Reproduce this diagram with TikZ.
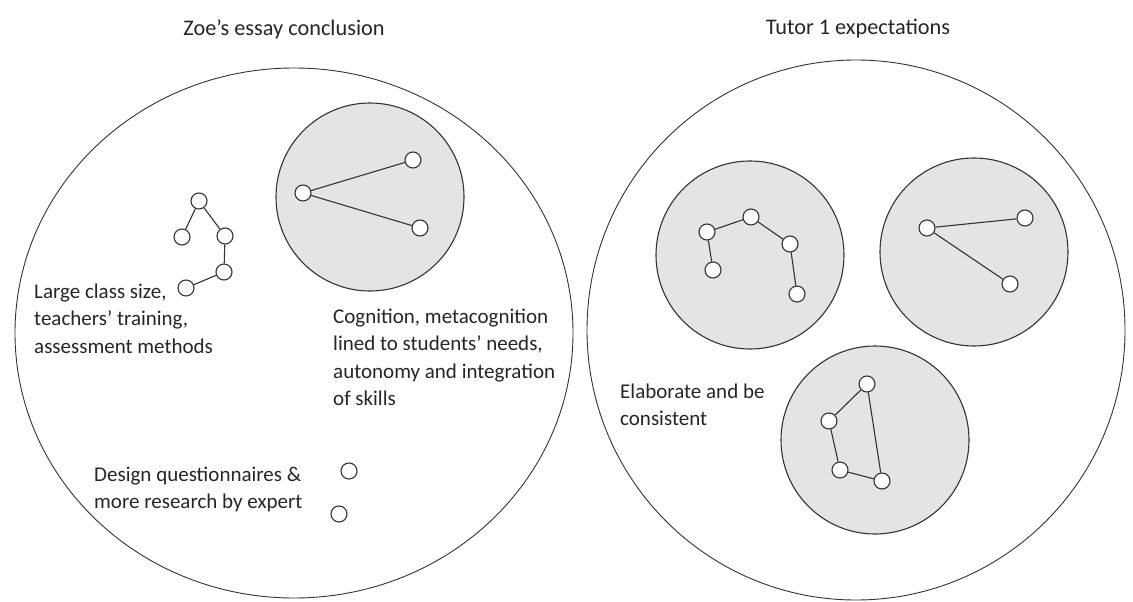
\documentclass[tikz,border=0pt]{standalone}
\usepackage{fontspec}
\setmainfont{Carlito}
\usetikzlibrary{shapes.geometric}
\definecolor{ink}{HTML}{333333}
\definecolor{ringfill}{HTML}{E4E4E4}
\begin{document}
\begin{tikzpicture}[x=1pt,y=-1pt,
  bigring/.style={ellipse, draw=ink, line width=0.9pt, inner sep=0pt},
  cluster/.style={circle, draw=ink, fill=ringfill, line width=1.1pt, inner sep=0pt, minimum size=188pt},
  dot/.style={circle, draw=ink, fill=white, line width=1.1pt, minimum size=16pt, inner sep=0pt},
  link/.style={draw=ink, line width=1.1pt},
  label/.style={anchor=north west, inner sep=0pt, align=left, text=black!85,
                font=\fontsize{21}{27.2}\selectfont},
  heading/.style={inner sep=0pt, text=black!85, font=\fontsize{22.3}{27}\selectfont}]
\fill[white] (0,0) rectangle (1133,602);
\useasboundingbox (0,0) rectangle (1133,602);

% headings
\node[heading] (hleft) at (284,29) {Zoe’s essay conclusion};
\node[heading] (hright) at (858,29) {Tutor 1 expectations};

% the two outer rings
\node[bigring, minimum width=558pt, minimum height=530pt] (ringL) at (294,333) {};
\node[bigring, minimum width=538pt, minimum height=540pt] (ringR) at (856,330) {};

% shaded clusters
\node[cluster] (cL)  at (370,197) {};
\node[cluster] (cR1) at (750,255) {};
\node[cluster] (cR2) at (974,252) {};
\node[cluster] (cR3) at (875,440) {};

% left ring: loose chain
\node[dot] (a1) at (199,201) {};
\node[dot] (a2) at (182,237) {};
\node[dot] (a3) at (225,236) {};
\node[dot] (a4) at (224,272) {};
\node[dot] (a5) at (186,288) {};
\draw[link] (a1) -- (a2);
\draw[link] (a1) -- (a3);
\draw[link] (a3) -- (a4);
\draw[link] (a4) -- (a5);

% left ring: cluster
\node[dot] (b1) at (303,193) {};
\node[dot] (b2) at (413,160) {};
\node[dot] (b3) at (420,228) {};
\draw[link] (b1) -- (b2);
\draw[link] (b1) -- (b3);

% left ring: isolated points
\node[dot] (c1) at (349,471) {};
\node[dot] (c2) at (339,514) {};

% right ring: first cluster
\node[dot] (d1) at (707,232) {};
\node[dot] (d2) at (751,217) {};
\node[dot] (d3) at (790,244) {};
\node[dot] (d4) at (713,270) {};
\node[dot] (d5) at (797,294) {};
\draw[link] (d1) -- (d2);
\draw[link] (d2) -- (d3);
\draw[link] (d3) -- (d5);
\draw[link] (d1) -- (d4);

% right ring: second cluster
\node[dot] (e1) at (927,228) {};
\node[dot] (e2) at (1025,218) {};
\node[dot] (e3) at (1010,284) {};
\draw[link] (e1) -- (e2);
\draw[link] (e1) -- (e3);

% right ring: third cluster
\node[dot] (f1) at (867,384) {};
\node[dot] (f2) at (829,421) {};
\node[dot] (f3) at (840,470) {};
\node[dot] (f4) at (882,481) {};
\draw[link] (f1) -- (f2);
\draw[link] (f2) -- (f3);
\draw[link] (f3) -- (f4);
\draw[link] (f4) -- (f1);

% labels
\node[label] (t1) at (34,284) {Large class size,\\teachers’ training,\\assessment methods};
\node[label] (t2) at (333,309) {Cognition, metacognition\\lined to students’ needs,\\autonomy and integration\\of skills};
\node[label] (t3) at (94,467) {Design questionnaires \&\\more research by expert};
\node[label] (t4) at (620,384) {Elaborate and be\\consistent};
\end{tikzpicture}
\end{document}
